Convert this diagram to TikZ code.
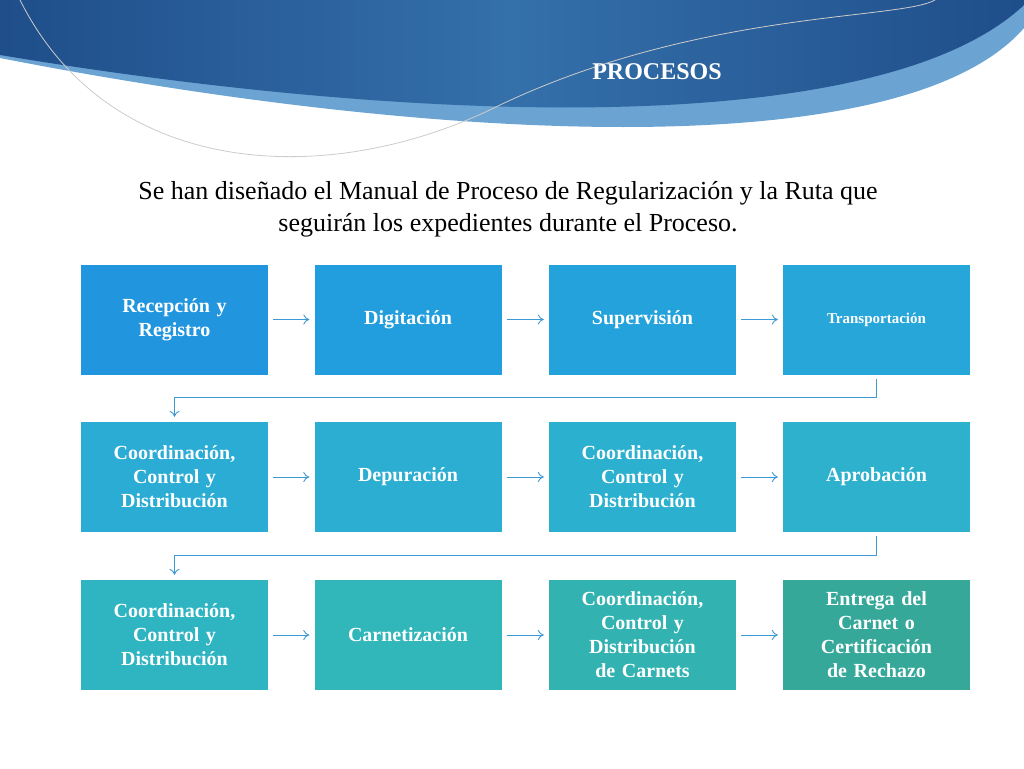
\documentclass[tikz,border=0pt]{standalone}
\usepackage{fontspec}
\setmainfont{Liberation Serif}
\usetikzlibrary{arrows.meta}
\definecolor{navy}{HTML}{1F4E8A}
\definecolor{midb}{HTML}{3470AA}
\definecolor{lightb}{HTML}{6BA3D3}
\definecolor{arr}{HTML}{3C9AD6}
\definecolor{ka1}{HTML}{2196DE}
\definecolor{ka2}{HTML}{229DDD}
\definecolor{ka3}{HTML}{24A2DB}
\definecolor{ka4}{HTML}{27A7D9}
\definecolor{kb1}{HTML}{2AACD5}
\definecolor{kb2}{HTML}{2BAED2}
\definecolor{kb3}{HTML}{2CB0CF}
\definecolor{kb4}{HTML}{2DB1CC}
\definecolor{kc1}{HTML}{2FB4C2}
\definecolor{kc2}{HTML}{31B6BA}
\definecolor{kc3}{HTML}{32B3B2}
\definecolor{kc4}{HTML}{35A89A}
\begin{document}
\begin{tikzpicture}[x=1pt,y=-1pt,
  box/.style={minimum width=187pt,minimum height=110pt,inner sep=0pt,text=white,align=center,font=\fontsize{20}{24}\selectfont\bfseries,text width=180pt},
  link/.style={draw=arr,line width=0.9pt,-{To[length=6pt,width=10pt]}}]
\useasboundingbox (0,0) rectangle (1024,768);
\fill[white] (0,0) rectangle (1024,768);
% header
\fill[lightb] (0,0)--(1024,0)--(1024,28) .. controls (900,170) and (420,140) .. (0,58) -- cycle;
\shade[left color=navy,right color=navy,middle color=midb] (0,0)--(1024,0)--(1024,5) .. controls (880,140) and (420,125) .. (0,55) -- cycle;
\draw[gray!40,line width=0.8pt] (20,0) .. controls (110,180) and (330,190) .. (500,105) .. controls (700,10) and (900,20) .. (935,0);
\node[text=white,font=\fontsize{24}{28}\selectfont\bfseries] (title) at (657,72) {PROCESOS};
\node[font=\fontsize{26}{32}\selectfont,align=center] (sub) at (508,209) {Se han diseñado el Manual de Proceso de Regularización y la Ruta que\\seguirán los expedientes durante el Proceso.};
% boxes
\node[box,fill=ka1] (a1) at (174.5,319.5) {Recepción y\\Registro};
\node[box,fill=ka2] (a2) at (408,319.5) {Digitación};
\node[box,fill=ka3] (a3) at (642.5,319.5) {Supervisión};
\node[box,fill=ka4,font=\fontsize{15}{18}\selectfont\bfseries] (a4) at (876.5,319.5) {Transportación};
\node[box,fill=kb1] (b1) at (174.5,477) {Coordinación,\\Control  y\\Distribución};
\node[box,fill=kb2] (b2) at (408,477) {Depuración};
\node[box,fill=kb3] (b3) at (642.5,477) {Coordinación,\\Control  y\\Distribución};
\node[box,fill=kb4] (b4) at (876.5,477) {Aprobación};
\node[box,fill=kc1] (c1) at (174.5,635) {Coordinación,\\Control  y\\Distribución};
\node[box,fill=kc2] (c2) at (408,635) {Carnetización};
\node[box,fill=kc3] (c3) at (642.5,635) {Coordinación,\\Control y\\Distribución\\de Carnets};
\node[box,fill=kc4] (c4) at (876.5,635) {Entrega del\\Carnet o\\Certificación\\de Rechazo};
% arrows
\foreach \p/\q in {a1/a2,a2/a3,a3/a4,b1/b2,b2/b3,b3/b4,c1/c2,c2/c3,c3/c4}
  \draw[link] ([xshift=5pt]\p.east) -- ([xshift=-5pt]\q.west);
\draw[link] ([yshift=-4pt]a4.south) -- ++(0,19) -| ([yshift=5pt]b1.north);
\draw[link] ([yshift=-4pt]b4.south) -- ++(0,19) -| ([yshift=5pt]c1.north);
\end{tikzpicture}
\end{document}
